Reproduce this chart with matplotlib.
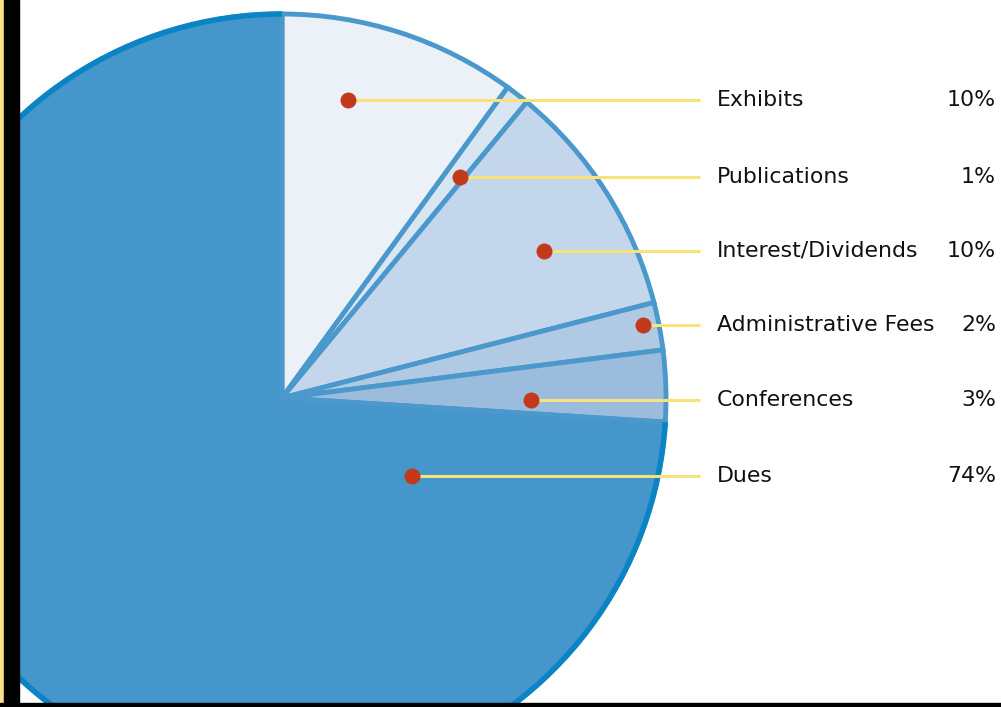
import numpy as np
import matplotlib.pyplot as plt
from matplotlib.patches import Arc, Rectangle

# data
labels = ['Exhibits', 'Publications', 'Interest/Dividends',
          'Administrative Fees', 'Conferences', 'Dues']
shares = [10, 1, 10, 2, 3, 74]
colors = ['#ECF1F8', '#D8E5F2', '#C3D6EB', '#B0CAE4', '#9BBCDD', '#4496CB']

# layout (pixel coords, y measured from bottom)
W, H = 1001, 707
cx, cy, r = 282, H - 398, 384
row_y = [H - 100, H - 177, H - 251, H - 325, H - 400, H - 476]
dot_x = [348, 460, 544, 643, 531, 412]

fig = plt.figure(figsize=(W / 100, H / 100), dpi=100)
ax = fig.add_axes([0, 0, 1, 1])

wedges, _ = ax.pie(shares, colors=colors, startangle=90, counterclock=False,
                   center=(cx, cy), radius=r,
                   wedgeprops=dict(edgecolor='#4A98CC', linewidth=3.5))

# darker rim on the big slice
a_start = 90 - 360 * sum(shares[:5]) / 100
ax.add_patch(Arc((cx, cy), 2 * r, 2 * r, theta1=90, theta2=a_start,
                 color='#0A84C4', linewidth=4, zorder=3))

for x, y, lab, s in zip(dot_x, row_y, labels, shares):
    ax.plot([x, 700], [y, y], color='#F8E27A', lw=2.2, zorder=4,
            solid_capstyle='butt')
    ax.plot(x, y, 'o', color='#C23A1B', ms=11.5, mec='none', zorder=5)
    ax.text(717, y, lab, fontsize=15.8, va='center', ha='left', color='#111111')
    ax.text(996, y, f'{s}%', fontsize=15.8, va='center', ha='right', color='#111111')

# frame bits
ax.add_patch(Rectangle((0, 0), 4, H, color='#F9E08A', zorder=6))
ax.add_patch(Rectangle((4, 0), 15, H, color='black', zorder=6))
ax.add_patch(Rectangle((0, 0), W, 4, color='black', zorder=6))

ax.set_xlim(0, W)
ax.set_ylim(0, H)
ax.axis('off')
fig.savefig('out.png', dpi=100)
